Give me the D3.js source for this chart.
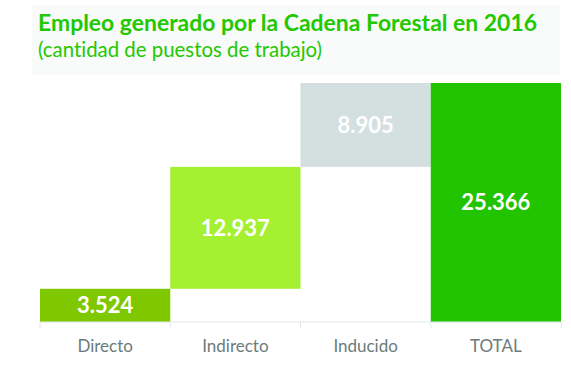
<!DOCTYPE html>
<html>
<head>
<meta charset="utf-8">
<script src="https://cdn.jsdelivr.net/npm/d3@7"></script>
<style>
  body { margin: 0; background: #ffffff; }
  svg { display: block; }
  text { font-variant-ligatures: none; }
</style>
</head>
<body>
<div id="chart"></div>
<script>
(function () {
  var width  = 571;
  var height = 374;

  // data
  var categories = ["Directo", "Indirecto", "Inducido", "TOTAL"];
  var values     = [3524, 12937, 8905, 25366];
  var isTotal    = [false, false, false, true];
  var barColors  = ["#7fc800", "#a6f032", "#d4dfe0", "#22c400"];

  var margin = { top: 83, right: 10, bottom: 52, left: 40 };

  var svg = d3.select("#chart")
    .append("svg")
    .attr("width", width)
    .attr("height", height);

  // light title panel
  svg.append("rect")
    .attr("x", 32).attr("y", 5)
    .attr("width", 528).attr("height", 70)
    .attr("fill", "#f9fafa");

  svg.append("text")
    .attr("x", 38).attr("y", 31)
    .attr("font-family", "Lato, sans-serif")
    .attr("font-weight", "bold")
    .attr("font-size", "23.5px")
    .attr("textLength", 499)
    .attr("lengthAdjust", "spacingAndGlyphs")
    .attr("fill", "#22c800")
    .text("Empleo generado por la Cadena Forestal en 2016");

  svg.append("text")
    .attr("x", 38).attr("y", 57)
    .attr("font-family", "Lato, sans-serif")
    .attr("font-size", "20.5px")
    .attr("textLength", 284)
    .attr("lengthAdjust", "spacingAndGlyphs")
    .attr("fill", "#22c800")
    .text("(cantidad de puestos de trabajo)");

  // running totals for the waterfall
  var rows = [];
  var run = 0;
  categories.forEach(function (c, i) {
    var start = isTotal[i] ? 0 : run;
    var end   = isTotal[i] ? values[i] : run + values[i];
    if (!isTotal[i]) run = end;
    rows.push({ cat: c, value: values[i], start: start, end: end, color: barColors[i] });
  });

  var x = d3.scaleBand()
    .domain(categories)
    .range([margin.left, width - margin.right])
    .padding(0);

  var y = d3.scaleLinear()
    .domain([0, d3.max(values)])
    .range([height - margin.bottom, margin.top]);

  var g = svg.append("g");

  g.selectAll("rect.bar")
    .data(rows)
    .enter().append("rect")
    .attr("class", "bar")
    .attr("x", function (d) { return x(d.cat); })
    .attr("width", x.bandwidth())
    .attr("y", function (d) { return y(d.end); })
    .attr("height", function (d) { return y(d.start) - y(d.end); })
    .attr("fill", function (d) { return d.color; });

  var fmt = d3.formatLocale({ decimal: ",", thousands: ".", grouping: [3], currency: ["", ""] }).format(",d");

  g.selectAll("text.val")
    .data(rows)
    .enter().append("text")
    .attr("class", "val")
    .attr("x", function (d) { return x(d.cat) + x.bandwidth() / 2; })
    .attr("y", function (d) { return (y(d.start) + y(d.end)) / 2; })
    .attr("dy", "0.36em")
    .attr("text-anchor", "middle")
    .attr("font-family", "Lato, sans-serif")
    .attr("font-weight", "bold")
    .attr("font-size", "22px")
    .attr("fill", "#ffffff")
    .text(function (d) { return fmt(d.value); });

  // axis
  var axis = svg.append("g")
    .attr("transform", "translate(0," + (height - margin.bottom) + ")");

  axis.append("line")
    .attr("x1", margin.left).attr("x2", width - margin.right)
    .attr("stroke", "#e2e8e8").attr("stroke-width", 1);

  var edges = categories.map(function (c) { return x(c); }).concat([width - margin.right]);
  axis.selectAll("line.tick")
    .data(edges)
    .enter().append("line")
    .attr("class", "tick")
    .attr("x1", function (d) { return d; })
    .attr("x2", function (d) { return d; })
    .attr("y1", 0).attr("y2", 6)
    .attr("stroke", "#e2e8e8");

  axis.selectAll("text")
    .data(categories)
    .enter().append("text")
    .attr("x", function (d) { return x(d) + x.bandwidth() / 2; })
    .attr("y", 30)
    .attr("text-anchor", "middle")
    .attr("font-family", "Lato, sans-serif")
    .attr("font-size", "17px")
    .attr("fill", "#6b7b7b")
    .text(function (d) { return d; });
})();
</script>
</body>
</html>
